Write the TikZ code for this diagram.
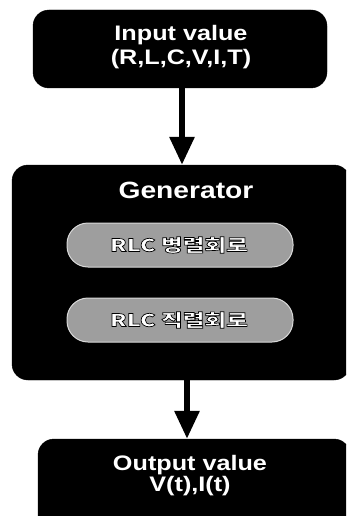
\documentclass[tikz,border=0pt]{standalone}
\usepackage{fontspec}
\setmainfont{Liberation Sans}[FakeStretch=1.2]
\newfontfamily\kr{Noto Sans CJK KR}[FakeStretch=1.35]
\usetikzlibrary{arrows.meta,calc}
\newcommand\outlinetext[1]{\special{pdf:literal direct 2 Tr 0.7 w 0 0 0 RG}#1\special{pdf:literal direct 0 Tr}}
\tikzset{
  blackbox/.style={fill=black, draw=black, rounded corners=16pt, inner sep=0pt},
  pill/.style={fill=black!38, draw=white!85!black, line width=1pt, rounded corners=21pt, inner sep=0pt, minimum width=226pt, minimum height=44pt},
  lbl/.style={text=white, font=\bfseries\fontsize{21}{24}\selectfont, align=center, inner sep=0pt},
  krlbl/.style={font=\kr\bfseries\fontsize{17.5}{19}\selectfont, inner sep=0pt, text=white},
  flow/.style={line width=6pt, -{Triangle[length=28pt,width=24pt]}}
}
\begin{document}
\begin{tikzpicture}[x=1pt,y=-1pt]
\useasboundingbox (0,0) rectangle (346,516);
\clip (0,0) rectangle (346,516);
\fill[white] (0,0) rectangle (346,516);
% boxes
\node[blackbox, minimum width=294pt, minimum height=78pt] (in) at (180,49) {};
\node[blackbox, minimum width=338pt, minimum height=215pt] (gen) at (181,272.5) {};
\node[blackbox, minimum width=312pt, minimum height=91pt] (out) at (194,484.5) {};
% texts
\node[lbl] (intext) at (181,47) {Input value\\(R,L,C,V,I,T)};
\node[lbl, font=\bfseries\fontsize{23.5}{24}\selectfont] (gentext) at (186,190) {Generator};
\node[lbl, font=\bfseries\fontsize{21}{21}\selectfont] (outtext) at (190,476) {Output value\\V(t),I(t)};
% pills
\node[pill] (p1) at (180,245) {};
\node[pill] (p2) at (180,320) {};
\node[krlbl] (p1t) at (179,245) {\outlinetext{RLC 병렬회로}};
\node[krlbl] (p2t) at (179,320) {\outlinetext{RLC 직렬회로}};
% arrows
\draw[flow] (in.south -| 182,0) -- (gen.north -| 182,0);
\draw[flow] (gen.south -| 187,0) -- (out.north -| 187,0);
\end{tikzpicture}
\end{document}
